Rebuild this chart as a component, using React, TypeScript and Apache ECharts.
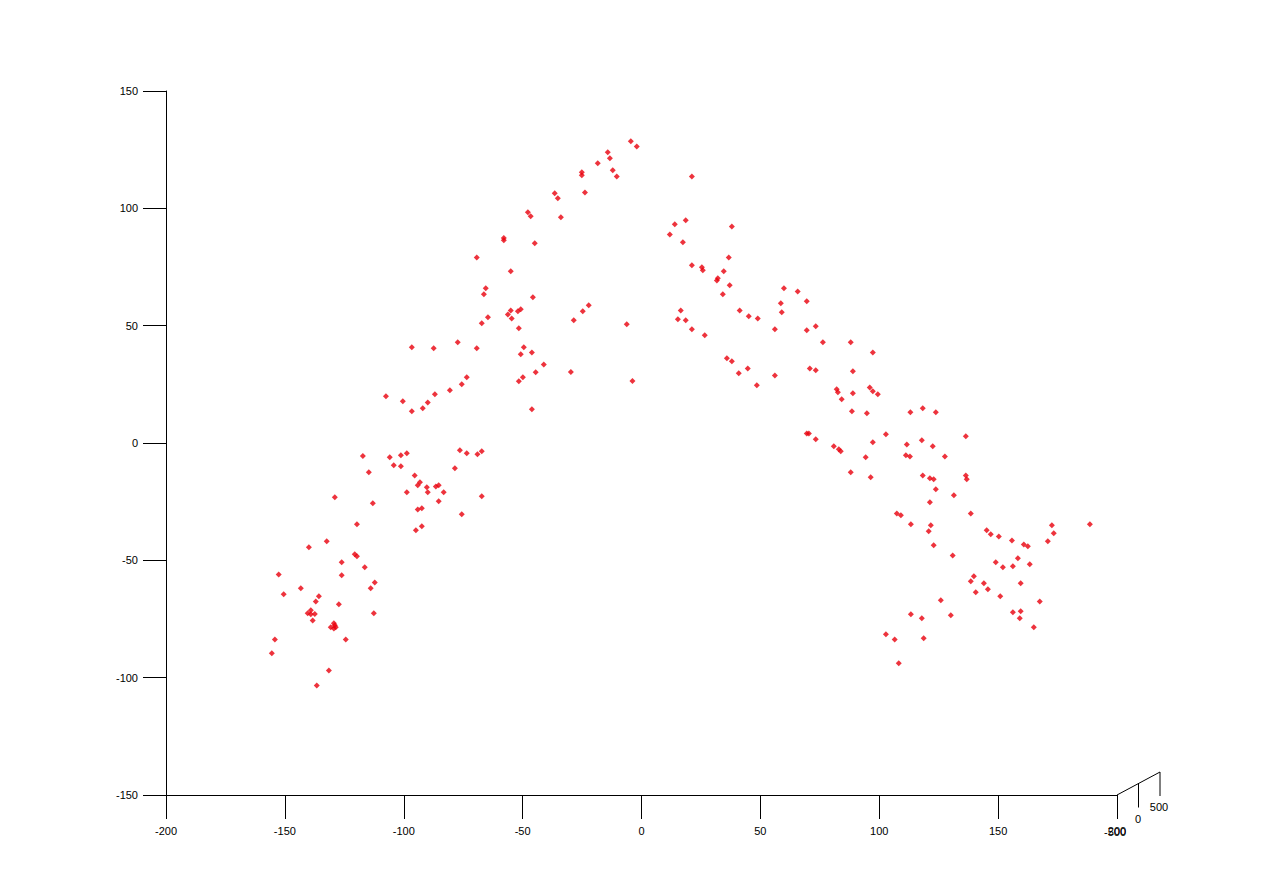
import React, { useEffect, useRef } from "react";
import * as echarts from "echarts";

const xTicks = [-200, -150, -100, -50, 0, 50, 100, 150, 200];
const yTicks = [-150, -100, -50, 0, 50, 100, 150];
const zTickLabels = ["-500", "0", "500"];

const xValues = [
  -117.2, -105.9, -101.2, -98.7, -76.4, -73.5, -69.0, -67.2, -104.2, -101.2,
  -114.7, -78.5, -95.4, -93.2, -94.1, -90.3, -86.5, -85.3, -98.7, -89.9,
  -83.2, -129.0, -113.0, -85.3, -67.2, -94.1, -92.4, -75.6, -119.7, -94.9,
  -92.4, -132.4, -139.9, -120.6, -119.7, -126.1, -116.4, -152.6, -126.1, -112.2,
  -143.3, -113.9, -150.5, -135.7, -137.0, -127.3, -139.1, -140.4, -139.1, -137.4,
  -112.6, -138.3, -129.4, -129.0, -130.7, -128.6, -129.4, -154.2, -124.4, -155.5,
  -131.5, -136.6,
  -57.9, -57.9, -44.9, -69.3, -55.0, -65.5, -66.3, -45.7, -55.0, -56.2,
  -52.0, -50.8, -54.6, -64.6, -67.2, -51.6, -96.6, -87.4, -77.3, -69.3,
  -49.5, -50.8, -46.1, -41.1, -44.5, -51.6, -49.9, -73.5, -75.6, -80.6,
  -86.9, -89.9, -92.0, -96.6, -100.4, -107.5, -46.1, -29.7,
  -4.5, -2.0, -14.2, -13.3, -18.4, -12.1, -10.4, -25.1, -25.1, -23.8,
  -36.5, -35.2, -47.8, -46.6, -33.9, -28.5, -24.7, -22.2, -6.2, -3.8,
  21.2, 14.0, 18.6, 11.9, 17.4, 38.0, 21.2, 25.4, 25.8, 36.7,
  34.6, 31.7, 32.1, 37.1, 34.2, 59.9, 65.7, 69.5, 58.6, 59.0,
  16.5, 15.3, 18.6, 21.2, 26.6, 41.3, 45.1, 48.9, 56.1, 69.5,
  73.3, 35.9, 38.0, 40.9, 44.7, 48.5, 56.1, 70.8, 73.3,
  76.3, 88.0, 97.3, 88.9, 82.1, 82.6, 84.2, 88.9, 96.0, 97.3,
  99.4, 88.5, 94.8, 113.1, 69.5, 70.4, 73.3, 80.9, 83.0, 83.8,
  102.8, 97.3, 111.6, 111.2, 112.9, 94.3, 88.0, 96.4,
  118.3, 123.8, 117.9, 122.5, 136.4, 127.6, 118.3, 121.3, 122.9, 136.4,
  136.8, 123.8, 131.4, 121.3, 138.5, 107.4, 109.1, 113.3, 121.7, 120.8,
  122.9, 130.9, 145.2, 146.9, 150.3, 149.0, 139.8, 138.5, 144.0, 140.6,
  145.7, 150.9, 125.9, 113.3, 117.9, 130.1, 102.8, 106.5, 118.7, 108.2,
  155.8, 160.8, 162.5, 172.6, 173.4, 170.9, 188.6, 152.0, 156.2, 158.3,
  163.3, 159.5, 167.5, 156.2, 159.5, 159.1, 165.0,
];

const yValues = [
  -5.5, -6.1, -5.2, -4.4, -3.1, -4.4, -4.8, -3.5, -9.5, -9.9,
  -12.5, -10.8, -13.8, -16.7, -18.0, -18.9, -18.5, -18.0, -21.0, -21.0,
  -21.0, -23.1, -25.7, -24.8, -22.7, -28.3, -27.8, -30.4, -34.6, -37.2,
  -35.5, -41.9, -44.4, -47.4, -48.3, -50.8, -53.0, -56.0, -56.4, -59.4,
  -61.9, -61.9, -64.5, -65.3, -67.5, -68.7, -71.3, -72.6, -73.0, -72.9,
  -72.6, -75.6, -76.8, -77.7, -78.5, -78.5, -79.0, -83.7, -83.7, -89.6,
  -96.9, -103.3,
  87.4, 86.4, 85.1, 79.1, 73.2, 65.9, 63.4, 62.1, 56.5, 54.8,
  56.1, 57.0, 53.1, 53.6, 51.0, 48.9, 40.8, 40.4, 42.9, 40.4,
  40.8, 37.8, 38.6, 33.5, 30.1, 26.3, 28.0, 28.0, 25.0, 22.5,
  20.8, 17.3, 14.8, 13.5, 17.8, 19.9, 14.4, 30.3,
  128.6, 126.4, 123.9, 121.3, 119.2, 116.2, 113.6, 115.4, 114.1, 106.8,
  106.4, 104.3, 98.3, 96.6, 96.2, 52.3, 56.1, 58.7, 50.6, 26.4,
  113.6, 93.2, 94.9, 88.9, 85.5, 92.3, 75.7, 74.9, 73.6, 79.1,
  73.2, 69.3, 70.2, 67.2, 63.4, 65.9, 64.6, 60.4, 59.5, 55.7,
  56.5, 52.7, 52.3, 48.5, 45.9, 56.5, 54.0, 53.1, 48.5, 48.0,
  49.7, 36.1, 34.8, 29.7, 31.8, 24.6, 28.8, 31.8, 31.0,
  42.9, 42.9, 38.6, 30.6, 22.9, 21.6, 18.6, 21.2, 23.7, 22.0,
  20.8, 13.5, 12.7, 13.1, 4.1, 4.1, 1.6, -1.4, -2.7, -3.5,
  3.7, 0.3, -0.6, -5.2, -5.7, -6.1, -12.5, -14.6,
  14.8, 13.1, 1.2, -1.4, 2.9, -5.7, -13.8, -15.0, -15.5, -13.8,
  -15.5, -19.7, -22.3, -25.3, -30.0, -30.0, -30.8, -34.6, -35.1, -37.6,
  -43.6, -47.9, -37.2, -38.9, -39.8, -50.8, -56.8, -58.9, -59.8, -63.6,
  -62.3, -65.3, -67.0, -73.0, -74.7, -73.4, -81.5, -83.7, -83.2, -93.9,
  -41.5, -43.2, -44.0, -35.1, -38.5, -41.9, -34.6, -53.0, -52.5, -49.1,
  -51.7, -59.8, -67.5, -72.1, -71.7, -74.7, -78.5,
];

const FONT = "'Liberation Sans', Arial, sans-serif";

export default function App() {
  const ref = useRef<HTMLDivElement>(null);

  useEffect(() => {
    if (!ref.current) return;
    const chart = echarts.init(ref.current, null, { renderer: "svg" });
    const points = xValues.map((x, i) => [x, yValues[i]]);

    // decorative depth (z) axis at the lower-right corner
    const zx0 = 1117, zy0 = 795, zx1 = 1160, zy1 = 772;
    const zTickPos = [
      [1117, 795],
      [1138.5, 783.5],
      [1160, 772],
    ];
    const zLabelPos = [
      [1115, 832],
      [1138, 819],
      [1159, 807],
    ];
    const graphic: any[] = [
      {
        type: "line",
        shape: { x1: zx0, y1: zy0, x2: zx1, y2: zy1 },
        style: { stroke: "#000", lineWidth: 1 },
        silent: true,
      },
    ];
    zTickPos.forEach(([x, y], i) => {
      if (i > 0) {
        graphic.push({
          type: "line",
          shape: { x1: x, y1: y, x2: x, y2: y + 24 },
          style: { stroke: "#000", lineWidth: 1 },
          silent: true,
        });
      }
      graphic.push({
        type: "text",
        x: zLabelPos[i][0],
        y: zLabelPos[i][1],
        style: {
          text: zTickLabels[i],
          fill: "#000",
          font: `11px ${FONT}`,
          textAlign: "center",
          textVerticalAlign: "middle",
        },
        silent: true,
      });
    });

    chart.setOption({
      animation: false,
      backgroundColor: "#ffffff",
      grid: { left: 166, right: 164, top: 91, bottom: 101, containLabel: false },
      xAxis: {
        type: "value",
        min: xTicks[0],
        max: xTicks[xTicks.length - 1],
        interval: 50,
        axisLine: { show: true, onZero: false, lineStyle: { color: "#000", width: 1 } },
        axisTick: { show: true, inside: false, length: 24, lineStyle: { color: "#000" } },
        axisLabel: {
          show: true,
          margin: 30,
          color: "#000",
          fontSize: 11,
          fontFamily: FONT,
          showMinLabel: true,
          showMaxLabel: true,
        },
        splitLine: { show: false },
      },
      yAxis: {
        type: "value",
        min: yTicks[0],
        max: yTicks[yTicks.length - 1],
        interval: 50,
        axisLine: { show: true, onZero: false, lineStyle: { color: "#000", width: 1 } },
        axisTick: { show: true, inside: false, length: 23, lineStyle: { color: "#000" } },
        axisLabel: {
          show: true,
          margin: 28,
          color: "#000",
          fontSize: 11,
          fontFamily: FONT,
          showMinLabel: true,
          showMaxLabel: true,
        },
        splitLine: { show: false },
      },
      graphic,
      series: [
        {
          type: "scatter",
          data: points,
          symbol: "diamond",
          symbolSize: 6,
          itemStyle: { color: "#e8000c" },
          silent: true,
        },
      ],
    });

    return () => chart.dispose();
  }, []);

  return (
    <div
      ref={ref}
      style={{
        position: "fixed",
        left: 0,
        top: 0,
        width: 1281,
        height: 896,
        background: "#ffffff",
      }}
    />
  );
}
